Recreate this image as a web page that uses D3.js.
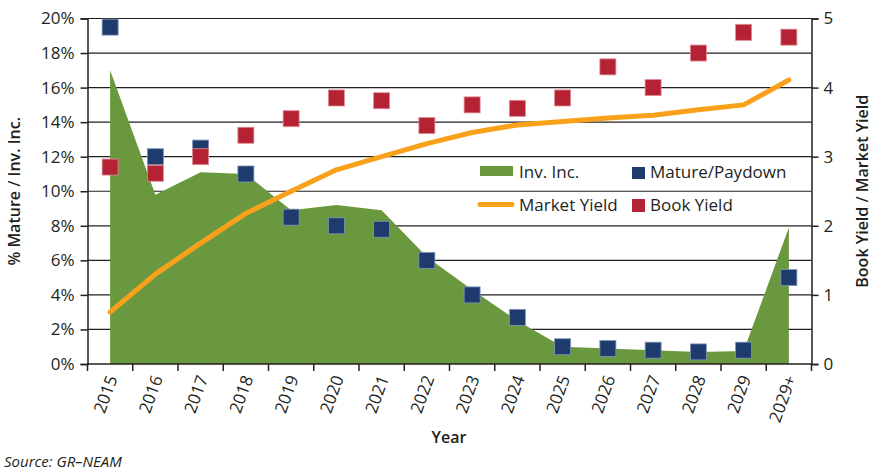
<!DOCTYPE html>
<html>
<head>
<meta charset="utf-8">
<script src="https://d3js.org/d3.v7.min.js"></script>
<style>
	body{ margin:0; background:#ffffff; }
	text{ font-family:"Open Sans", sans-serif; fill:#231f20; }
</style>
</head>
<body>
<div id="chart"></div>
<script>
// Chart values
var years = ["2015","2016","2017","2018","2019","2020","2021","2022","2023","2024","2025","2026","2027","2028","2029","2029+"];
var invInc = [17.0, 9.8, 11.1, 11.0, 8.9, 9.2, 8.9, 6.2, 4.3, 2.5, 1.0, 0.9, 0.8, 0.7, 0.75, 7.9];		// % (left axis)
var mature = [19.5, 12.0, 12.5, 11.0, 8.5, 8.0, 7.8, 6.0, 4.0, 2.7, 1.0, 0.9, 0.8, 0.7, 0.8, 5.0];		// % (left axis)
var bookYield = [2.85, 2.76, 3.0, 3.31, 3.55, 3.85, 3.81, 3.45, 3.75, 3.7, 3.85, 4.3, 4.0, 4.5, 4.8, 4.73];	// right axis
var marketYield = [0.75, 1.3, 1.75, 2.18, 2.5, 2.81, 3.0, 3.19, 3.35, 3.46, 3.51, 3.56, 3.6, 3.68, 3.75, 4.11];	// right axis
var leftTicks = [0,2,4,6,8,10,12,14,16,18,20];
var rightTicks = [0,1,2,3,4,5];

var colors = {inc:"#6a983e", mature:"#1d3c6d", book:"#b52234", market:"#f9a11b", ink:"#231f20"};

var width = 877, height = 475;
var plot = {left:87.5, right:811.5, top:18.5, bottom:364};

buildChart = function(id){
	var svg = d3.select("#" + id).append("svg").attr("width",width).attr("height",height);

	var x = d3.scaleBand().domain(years).range([plot.left,plot.right]);
	var yL = d3.scaleLinear().domain([0,20]).range([plot.bottom,plot.top]);
	var yR = d3.scaleLinear().domain([0,5]).range([plot.bottom,plot.top]);
	var cx = function(i){ return x(years[i]) + x.bandwidth()/2; };

	// gridlines every 2%
	svg.append("g").selectAll("line")
		.data(leftTicks.slice(1))
		.enter().append("line")
		.attr("x1",plot.left).attr("x2",plot.right)
		.attr("y1",function(d){ return yL(d); }).attr("y2",function(d){ return yL(d); })
		.attr("stroke",colors.ink).attr("stroke-width",1.2);

	// Inv. Inc. area
	var area = d3.area()
		.x(function(d,i){ return cx(i); })
		.y0(yL(0))
		.y1(function(d){ return yL(d); });
	svg.append("path").datum(invInc).attr("d",area).attr("fill",colors.inc);

	// Market Yield line
	var line = d3.line()
		.x(function(d,i){ return cx(i); })
		.y(function(d){ return yR(d); });
	svg.append("path").datum(marketYield).attr("d",line)
		.attr("fill","none").attr("stroke",colors.market).attr("stroke-width",5)
		.attr("stroke-linejoin","round").attr("stroke-linecap","round");

	// square markers
	var s = 16;
	attachSquares(svg,mature,yL,cx,s,colors.mature,"#8096b8");
	attachSquares(svg,bookYield,yR,cx,s,colors.book,"#e08a94");

	// axes
	var gl = svg.append("g").attr("transform","translate(" + plot.left + ",0)")
		.call(d3.axisLeft(yL).tickValues(leftTicks).tickSize(7).tickPadding(6).tickFormat(function(d){ return d + "%"; }));
	var gr = svg.append("g").attr("transform","translate(" + plot.right + ",0)")
		.call(d3.axisRight(yR).tickValues(rightTicks).tickSize(7).tickPadding(5).tickFormat(d3.format("d")));
	[gl,gr].forEach(function(g){
		g.select(".domain").attr("stroke",colors.ink).attr("stroke-width",1.5);
		g.selectAll(".tick line").attr("stroke",colors.ink).attr("stroke-width",1.5);
		g.selectAll("text").style("font-size","17px").attr("fill",colors.ink);
	});

	// x axis: baseline, ticks between categories, rotated labels
	var gx = svg.append("g");
	gx.append("line").attr("x1",plot.left).attr("x2",plot.right)
		.attr("y1",plot.bottom).attr("y2",plot.bottom)
		.attr("stroke",colors.ink).attr("stroke-width",1.5);
	gx.selectAll(".sep").data(years.concat(["end"]))
		.enter().append("line")
		.attr("x1",function(d){ return d == "end" ? plot.right : x(d); })
		.attr("x2",function(d){ return d == "end" ? plot.right : x(d); })
		.attr("y1",plot.bottom).attr("y2",plot.bottom + 7)
		.attr("stroke",colors.ink).attr("stroke-width",1.5);
	gx.selectAll(".lbl").data(years)
		.enter().append("text")
		.attr("transform",function(d){ return "translate(" + (x(d) + x.bandwidth()/2 + 2) + "," + (plot.bottom + 12) + ") rotate(-70)"; })
		.attr("text-anchor","end")
		.attr("dy","0.35em")
		.style("font-size","17px")
		.text(function(d){ return d; });

	// titles
	svg.append("text").attr("transform","translate(20," + ((plot.top + plot.bottom)/2) + ") rotate(-90)")
		.attr("text-anchor","middle").style("font-size","16px").style("font-weight","600")
		.text("% Mature / Inv. Inc.");
	svg.append("text").attr("transform","translate(868," + ((plot.top + plot.bottom)/2) + ") rotate(-90)")
		.attr("text-anchor","middle").style("font-size","16px").style("font-weight","600")
		.text("Book Yield / Market Yield");
	svg.append("text").attr("x",449).attr("y",443)
		.attr("text-anchor","middle").style("font-size","16px").style("font-weight","600")
		.text("Year");
	svg.append("text").attr("x",4).attr("y",467)
		.style("font-size","15px").style("font-style","italic")
		.text("Source: GR\u2013NEAM");

	attachLegend(svg);
}

// Builds square markers for one series
attachSquares = function(svg,data,y,cx,s,fill,edge){
	svg.append("g").selectAll("rect")
		.data(data)
		.enter().append("rect")
		.attr("x",function(d,i){ return cx(i) - s/2; })
		.attr("y",function(d){ return y(d) - s/2; })
		.attr("width",s).attr("height",s)
		.attr("fill",fill)
		.attr("stroke",edge).attr("stroke-width",0.8);
}

// Two-row legend inside the plot, no background
attachLegend = function(svg){
	var g = svg.append("g");
	g.append("rect").attr("x",480).attr("y",166).attr("width",33).attr("height",10).attr("fill",colors.inc);
	g.append("text").attr("x",519).attr("y",178).style("font-size","17px").text("Inv. Inc.");
	g.append("line").attr("x1",480).attr("x2",512).attr("y1",204.5).attr("y2",204.5)
		.attr("stroke",colors.market).attr("stroke-width",5).attr("stroke-linecap","round");
	g.append("text").attr("x",519).attr("y",211).style("font-size","17px").text("Market Yield");
	g.append("rect").attr("x",632).attr("y",167).attr("width",13).attr("height",12).attr("fill",colors.mature);
	g.append("text").attr("x",650).attr("y",178).style("font-size","17px").text("Mature/Paydown");
	g.append("rect").attr("x",632).attr("y",199).attr("width",13).attr("height",13).attr("fill",colors.book);
	g.append("text").attr("x",650).attr("y",211).style("font-size","17px").text("Book Yield");
}

buildChart("chart");
</script>
</body>
</html>
